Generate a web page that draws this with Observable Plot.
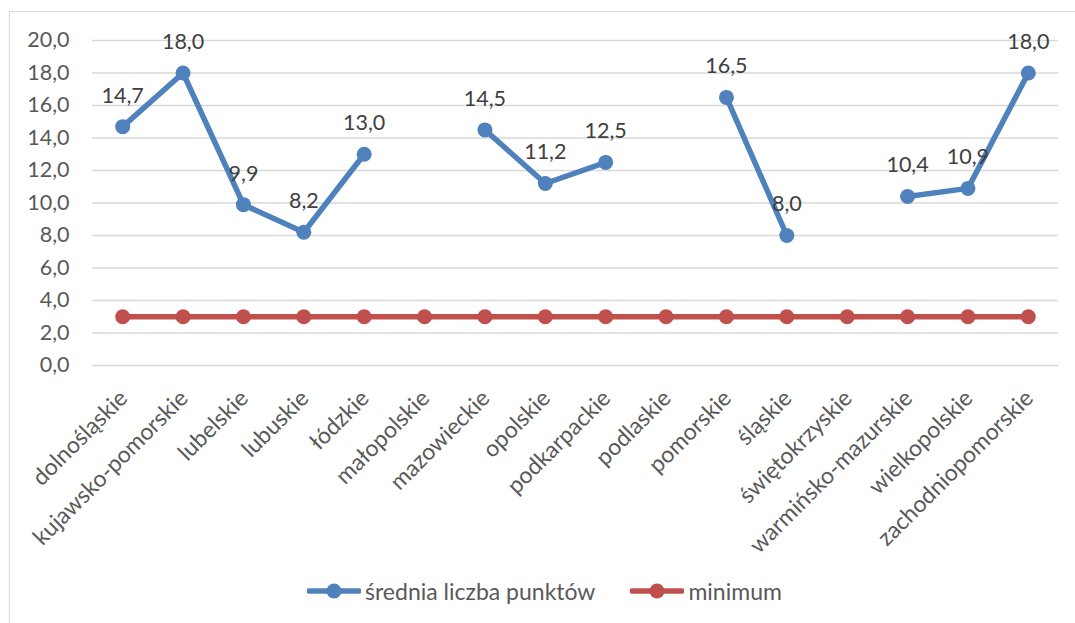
<!DOCTYPE html>
<html>
<head>
<meta charset="utf-8">
<script src="https://cdn.jsdelivr.net/npm/d3@7"></script>
<script src="https://cdn.jsdelivr.net/npm/@observablehq/plot@0.6"></script>
<style>
  html, body { margin: 0; padding: 0; background: #fff; overflow: hidden; }
  #wrap { position: relative; width: 1075px; height: 623px; font-family: Lato, "Open Sans", sans-serif; }
  #frame { position: absolute; left: 9px; top: 11px; width: 1100px; height: 650px; border: 1.5px solid #d9d9d9; box-sizing: border-box; }
  #chart { position: absolute; left: 0; top: 0; }
  #legend { position: absolute; left: 307px; top: 577px; display: flex; align-items: center; font-size: 23px; color: #595959; }
  .item { display: flex; align-items: center; }
  .item svg { margin-right: 4px; }
</style>
</head>
<body>
<div id="wrap">
  <div id="frame"></div>
  <div id="chart"></div>
  <div id="legend"></div>
</div>
<script>
const categories = ["dolnośląskie","kujawsko-pomorskie","lubelskie","lubuskie","łódzkie","małopolskie","mazowieckie","opolskie","podkarpackie","podlaskie","pomorskie","śląskie","świętokrzyskie","warmińsko-mazurskie","wielkopolskie","zachodniopomorskie"];
const sredniaValues = [14.7, 18.0, 9.9, 8.2, 13.0, null, 14.5, 11.2, 12.5, null, 16.5, 8.0, null, 10.4, 10.9, 18.0];
const minimumValues = [3,3,3,3,3,3,3,3,3,3,3,3,3,3,3,3];
const yTicks = [0,2,4,6,8,10,12,14,16,18,20];
const seriesNames = ["średnia liczba punktów", "minimum"];
const seriesColors = ["#4f81bd", "#c0504d"];

const fmt = v => v.toFixed(1).replace(".", ",");
const srednia = categories.map((c, i) => ({cat: c, value: sredniaValues[i]}));
const minimum = categories.map((c, i) => ({cat: c, value: minimumValues[i]}));
const sredniaDefined = srednia.filter(d => d.value != null);

const chart = Plot.plot({
  width: 1075,
  height: 565,
  marginLeft: 92,
  marginRight: 17,
  marginTop: 40,
  marginBottom: 200,
  style: {fontFamily: "Lato, 'Open Sans', sans-serif", fontSize: "21px", background: "transparent"},
  x: {type: "point", domain: categories, padding: 0.5, round: false, axis: null},
  y: {domain: [0, 20], ticks: yTicks, axis: null},
  marks: [
    Plot.gridY(yTicks, {stroke: "#d9d9d9", strokeOpacity: 1, strokeWidth: 1.5}),
    Plot.axisY(yTicks, {tickSize: 0, tickPadding: 23, tickFormat: fmt, fill: "#595959", fontSize: 21.5, label: null}),
    Plot.text(categories, {x: d => d, y: () => 0, text: d => d, rotate: -45, textAnchor: "end", dx: 1, dy: 29, fill: "#595959", fontSize: 23}),
    Plot.line(minimum, {x: "cat", y: "value", stroke: seriesColors[1], strokeWidth: 5.5}),
    Plot.dot(minimum, {x: "cat", y: "value", r: 7.5, fill: seriesColors[1]}),
    Plot.line(srednia, {x: "cat", y: "value", stroke: seriesColors[0], strokeWidth: 5.5}),
    Plot.dot(sredniaDefined, {x: "cat", y: "value", r: 7.5, fill: seriesColors[0]}),
    Plot.text(sredniaDefined, {x: "cat", y: "value", text: d => fmt(d.value), dy: -31, fill: "#404040", fontSize: 21.5})
  ]
});
document.getElementById("chart").appendChild(chart);

const legend = document.getElementById("legend");
seriesNames.forEach((name, i) => {
  const item = document.createElement("div");
  item.className = "item";
  if (i > 0) item.style.marginLeft = "35px";
  item.innerHTML = `<svg width="54" height="16"><line x1="2" y1="8" x2="52" y2="8" stroke="${seriesColors[i]}" stroke-width="5.5" stroke-linecap="round"/><circle cx="27" cy="8" r="7.5" fill="${seriesColors[i]}"/></svg><span>${name}</span>`;
  legend.appendChild(item);
});
</script>
</body>
</html>
